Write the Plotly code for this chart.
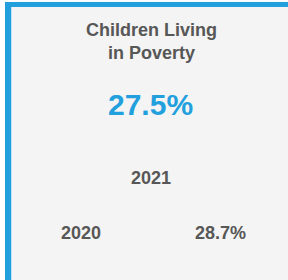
import plotly.graph_objects as go

W, H = 288, 280

title_lines = ["Children Living", "in Poverty"]
current_year = ["2021"]
current_value = [27.5]
previous_year = ["2020"]
previous_value = [28.7]

BLUE = "#229fdd"
GRAY = "#575757"
FONT = "Liberation Sans, Arial, sans-serif"


def px(x):
    return x / W


def py(y):
    return 1 - y / H


fig = go.Figure()

shapes = [
    dict(type="rect", xref="paper", yref="paper", x0=px(5), x1=px(288), y0=py(280), y1=py(2),
         fillcolor="#f4f4f4", line=dict(width=0), layer="below"),
    dict(type="rect", xref="paper", yref="paper", x0=px(5), x1=px(288), y0=py(7), y1=py(2),
         fillcolor=BLUE, line=dict(width=0)),
    dict(type="rect", xref="paper", yref="paper", x0=px(5), x1=px(11), y0=py(280), y1=py(2),
         fillcolor=BLUE, line=dict(width=0)),
    dict(type="rect", xref="paper", yref="paper", x0=px(11), x1=px(12), y0=py(280), y1=py(7),
         fillcolor="#bfe2f5", line=dict(width=0)),
]

annotations = [
    dict(text="<b>" + "<br>".join(title_lines) + "</b>", x=px(151), y=py(41), xref="paper", yref="paper",
         showarrow=False, xanchor="center", yanchor="middle",
         font=dict(family=FONT, size=18, color=GRAY)),
    dict(text="<b>%.1f%%</b>" % current_value[0], x=px(150.5), y=py(104), xref="paper", yref="paper",
         showarrow=False, xanchor="center", yanchor="middle",
         font=dict(family=FONT, size=30, color=BLUE)),
    dict(text="<b>%s</b>" % current_year[0], x=px(150.5), y=py(178), xref="paper", yref="paper",
         showarrow=False, xanchor="center", yanchor="middle",
         font=dict(family=FONT, size=18, color=GRAY)),
    dict(text="<b>%s</b>" % previous_year[0], x=px(81), y=py(232.5), xref="paper", yref="paper",
         showarrow=False, xanchor="center", yanchor="middle",
         font=dict(family=FONT, size=18, color=GRAY)),
    dict(text="<b>%.1f%%</b>" % previous_value[0], x=px(220), y=py(232.5), xref="paper", yref="paper",
         showarrow=False, xanchor="center", yanchor="middle",
         font=dict(family=FONT, size=18, color=GRAY)),
]

fig.update_layout(
    width=W, height=H,
    margin=dict(l=0, r=0, t=0, b=0),
    paper_bgcolor="white", plot_bgcolor="white",
    xaxis=dict(visible=False), yaxis=dict(visible=False),
    shapes=shapes, annotations=annotations,
    showlegend=False,
)

fig.write_html("out.html", config={"displayModeBar": False},
               post_script="document.body.style.margin='0';")
